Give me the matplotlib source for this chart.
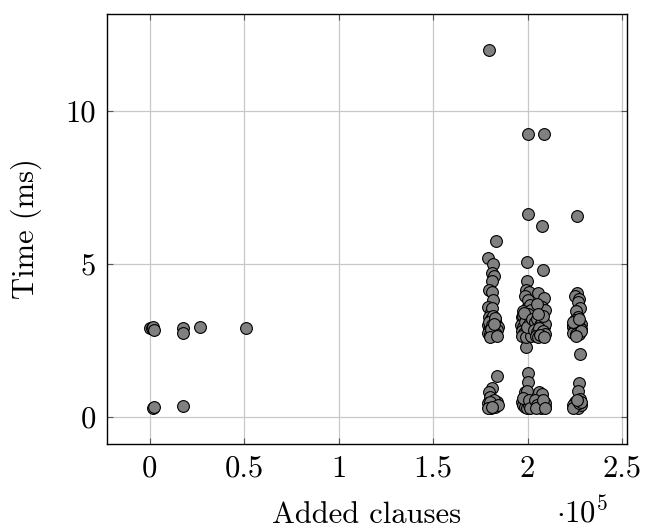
import matplotlib
matplotlib.use("Agg")
import matplotlib.pyplot as plt
from matplotlib.ticker import FuncFormatter, FixedLocator

plt.rcParams['font.family'] = 'cmr10'
plt.rcParams['mathtext.fontset'] = 'cm'
plt.rcParams['axes.formatter.use_mathtext'] = True

# added clauses / time (ms), grouped by instance cluster
small_x = [0, 1000, 2000, 2500, 17500, 17500, 26500, 51000, 2000, 2500, 17800]
small_y = [2.92, 2.90, 2.95, 2.85, 2.92, 2.74, 2.95, 2.92, 0.30, 0.33, 0.35]

a_x = [179600, 183300, 179300, 181500, 181000, 182000, 181000, 179500, 181000, 181500, 179300, 180500, 181000,
       179500, 180500, 181500, 182500, 183500, 179200, 180000, 181000, 182000, 183000, 184200, 179800, 180800,
       181700, 182600, 183700, 179100, 180300, 181300, 182200, 183300, 179600, 181100, 182800, 180600, 182000,
       179900, 184000,
       183600, 181000, 179500, 180300, 184000, 179300, 180000, 180800, 181800, 183000, 182300, 179900, 179100,
       184300, 181200]
a_y = [11.99, 5.75, 5.20, 4.98, 4.70, 4.60, 4.43, 4.14, 4.07, 3.81, 3.58, 3.42, 3.55,
       3.25, 3.20, 3.30, 3.15, 3.05, 3.00, 2.95, 3.10, 2.98, 2.90, 2.95, 2.85, 2.80,
       2.90, 2.78, 2.85, 2.75, 2.70, 2.72, 2.68, 2.70, 3.10, 3.00, 3.22, 2.88, 3.05,
       2.62, 2.65,
       1.34, 0.94, 0.81, 0.65, 0.50, 0.45, 0.35, 0.30, 0.40, 0.32, 0.55, 0.50, 0.30,
       0.38, 0.32]

b_x = [200000, 200000, 199800, 199800, 199000, 200500, 198500, 200000, 199500, 201000, 197500, 202000, 199000,
       196800, 197800, 199000, 200200, 201300, 202300, 196600, 197600, 198800, 200000, 201100, 202400, 197100,
       198300, 199600, 200700, 201800, 196900, 199400, 201600, 198000, 200500, 199800, 202500,
       200300, 200000, 198500, 199500, 196800, 197700, 198700, 199700, 200700, 201700, 202400, 197500, 200600,
       201300]
b_y = [9.22, 6.64, 5.05, 4.43, 4.14, 4.07, 3.95, 3.81, 3.55, 3.65, 3.45, 3.50, 2.28,
       3.25, 3.30, 3.20, 3.35, 3.15, 3.05, 3.00, 2.95, 3.10, 2.90, 2.98, 2.85, 2.80,
       2.75, 2.82, 2.70, 2.72, 2.65, 2.62, 2.65, 3.40, 3.05, 2.95, 3.20,
       1.43, 1.14, 0.81, 0.85, 0.50, 0.40, 0.32, 0.30, 0.38, 0.33, 0.45, 0.62, 0.55,
       0.30]

c_x = [208700, 207500, 208300, 205500, 208800, 207800, 207600, 206200, 209200, 204800,
       203800, 205000, 206300, 207500, 208600, 209300, 203600, 204800, 206000, 207200, 208300, 209400,
       204200, 205600, 206800, 208900, 208000, 205400,
       206000, 207400, 204000, 205000, 206000, 207100, 208100, 209100, 209400, 204600, 208400, 209000]
c_y = [9.22, 6.22, 4.79, 4.04, 3.88, 3.60, 3.26, 2.93, 3.50, 3.70,
       3.10, 3.20, 3.00, 3.15, 2.95, 3.05, 2.85, 2.78, 2.90, 2.72, 2.80, 2.70,
       2.65, 2.62, 2.68, 2.62, 3.30, 3.35,
       0.81, 0.75, 0.55, 0.40, 0.32, 0.30, 0.38, 0.33, 0.45, 0.30, 0.55, 0.30]

d_x = [226200, 226000, 225000, 227000, 226500, 227500, 225500, 226800, 225300, 228000, 224200, 226000,
       227500, 223800, 224800, 226200, 228300, 224100, 225500, 227000, 228500, 223900, 227200, 225800, 227600,
       227300, 226700, 227700, 225000, 224200, 225500, 226800, 228000, 224000, 227000, 228300, 225900]
d_y = [6.55, 4.04, 3.95, 3.85, 3.75, 3.55, 3.45, 3.26, 3.15, 3.05, 3.00, 2.95,
       2.90, 2.95, 2.85, 2.80, 2.88, 2.75, 2.70, 2.72, 2.80, 3.10, 3.20, 2.65, 2.05,
       1.10, 0.85, 0.59, 0.50, 0.40, 0.32, 0.30, 0.38, 0.30, 0.45, 0.48, 0.55]

xs = small_x + a_x + b_x + c_x + d_x
ys = small_y + a_y + b_y + c_y + d_y

fig = plt.figure(figsize=(6.45, 5.28), dpi=100)
ax = fig.add_axes([107 / 645, 84 / 528, 520 / 645, 430 / 528])

ax.grid(True, color='#c8c8c8', linewidth=0.9)
ax.set_axisbelow(True)
ax.scatter(xs, ys, s=72, facecolor='#808080', edgecolor='black', linewidths=0.8, zorder=3)

ax.set_xlim(-22600, 252600)
ax.set_ylim(-0.88, 13.15)
ax.xaxis.set_major_locator(FixedLocator([0, 50000, 100000, 150000, 200000, 250000]))
ax.yaxis.set_major_locator(FixedLocator([0, 5, 10]))
ax.xaxis.set_major_formatter(FuncFormatter(lambda v, p: f"{v / 1e5:g}"))
ax.yaxis.set_major_formatter(FuncFormatter(lambda v, p: f"{v:g}"))

ax.tick_params(direction='in', length=4, width=0.8, color='#555555', labelsize=22,
               top=True, right=True)
ax.tick_params(axis='x', pad=8)
ax.tick_params(axis='y', pad=8)
for sp in ax.spines.values():
    sp.set_linewidth(1.0)

ax.set_xlabel('Added clauses', fontsize=22)
ax.set_ylabel('Time (ms)', fontsize=22)
ax.xaxis.set_label_coords(0.5, -0.135)
ax.yaxis.set_label_coords(-0.125, 0.5)
fig.text(556 / 645, 5 / 528, r'$\cdot 10^5$', fontsize=22, ha='left', va='baseline')

fig.savefig('out.png', dpi=100)
